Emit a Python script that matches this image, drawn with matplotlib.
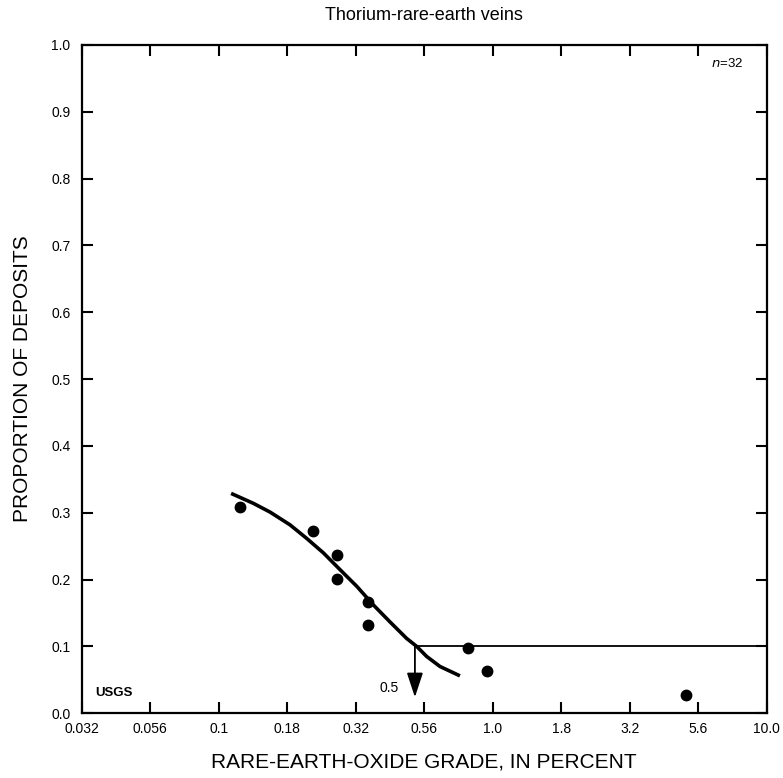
import numpy as np
import matplotlib.pyplot as plt

plt.rcParams['font.family'] = ['Liberation Sans', 'DejaVu Sans']

# --- data ---
grade_pts = [0.120, 0.221, 0.271, 0.271, 0.350, 0.350, 0.809, 0.950, 5.07]
prop_pts = [0.308, 0.272, 0.237, 0.201, 0.167, 0.132, 0.098, 0.063, 0.028]

# fitted curve
curve_x = [0.111, 0.134, 0.154, 0.182, 0.209, 0.241, 0.277, 0.319,
           0.367, 0.421, 0.485, 0.528, 0.574, 0.642, 0.759]
curve_y = [0.329, 0.314, 0.301, 0.282, 0.262, 0.240, 0.215, 0.190,
           0.162, 0.137, 0.112, 0.100, 0.085, 0.070, 0.056]

median_grade = 0.52
median_level = 0.1

tick_vals = 10 ** np.arange(-1.5, 1.01, 0.25)
tick_labels = ['0.032', '0.056', '0.1', '0.18', '0.32', '0.56',
               '1.0', '1.8', '3.2', '5.6', '10.0']
n_deposits = 32

# --- figure ---
fig = plt.figure(figsize=(7.83, 7.78), dpi=100)
ax = fig.add_axes([0.1043, 0.0832, 0.875, 0.8590])

ax.plot(curve_x, curve_y, color='black', lw=2.6, solid_capstyle='butt',
        solid_joinstyle='round')
ax.plot(grade_pts, prop_pts, 'o', color='black', ms=7.5)

# median line and arrow
ax.plot([median_grade, 10 ** 1], [median_level, median_level], color='black', lw=1.3)
ax.annotate('', xy=(median_grade, 0.024), xytext=(median_grade, median_level),
            arrowprops=dict(arrowstyle='-|>,head_length=1.0,head_width=0.33',
                            mutation_scale=15, lw=1.3, color='black',
                            shrinkA=0, shrinkB=0))
ax.text(0.455, 0.038, '0.5', ha='right', va='center', fontsize=10)

ax.set_xscale('log')
ax.set_xlim(10 ** -1.5, 10)
ax.set_ylim(0, 1.0)
ax.set_xticks(tick_vals)
ax.set_xticklabels(tick_labels)
ax.minorticks_off()
ax.set_yticks(np.arange(0, 1.01, 0.1))
ax.set_yticklabels([f'{v:.1f}' for v in np.arange(0, 1.01, 0.1)])

ax.tick_params(direction='in', length=8, width=1.5, top=True, right=True,
               labelsize=10)
ax.tick_params(axis='x', pad=6)
ax.tick_params(axis='y', pad=8)
for s in ax.spines.values():
    s.set_linewidth(1.6)

ax.text(0.02, 0.03, 'USGS', transform=ax.transAxes, fontsize=9.5,
        fontweight='bold', ha='left', va='center')
ax.text(0.965, 0.973, f'$n$={n_deposits}', transform=ax.transAxes,
        fontsize=9.5, ha='right', va='center')

ax.set_title('Thorium-rare-earth veins', fontsize=13, pad=18)
ax.set_xlabel('RARE-EARTH-OXIDE GRADE, IN PERCENT', fontsize=15, labelpad=12)
ax.set_ylabel('PROPORTION OF DEPOSITS', fontsize=15, labelpad=14)

fig.savefig('out.png', dpi=100)
